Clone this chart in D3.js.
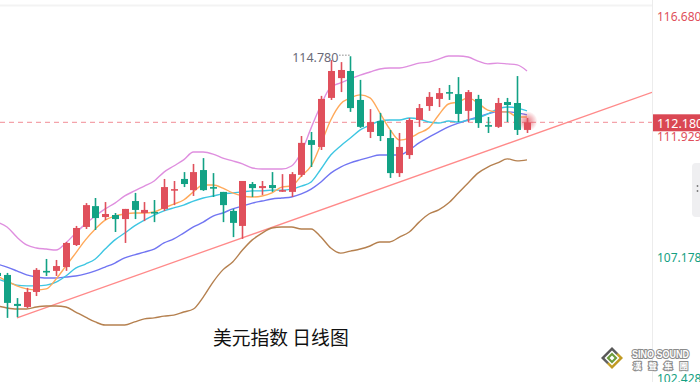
<!DOCTYPE html>
<html><head><meta charset="utf-8">
<script src="https://cdn.jsdelivr.net/npm/d3@7"></script>
<style>html,body{margin:0;padding:0;background:#fff;overflow:hidden}svg{display:block}</style>
</head><body>
<div id="chart"></div>
<script>
// ---- data (daily candles, index 0 is partially off-screen) ----
const days = d3.range(55);
const open  = [106.25,106.17,105.03,104.91,105.50,106.33,106.33,106.48,107.35,108.06,108.88,108.45,108.53,108.37,109.08,108.61,108.65,108.77,109.51,109.95,109.51,110.30,109.63,109.44,108.69,108.10,109.75,109.59,109.71,109.48,109.44,110.11,111.48,111.21,113.14,113.92,114.20,113.06,111.80,112.23,111.56,110.18,110.89,112.27,112.82,113.10,113.37,113.29,112.63,113.10,112.07,112.00,112.98,112.94,111.88];
const high  = [106.30,106.25,105.26,105.66,106.44,106.80,106.76,107.47,108.10,109.00,109.20,109.04,108.61,108.77,109.40,109.04,109.12,109.95,109.87,110.22,110.54,110.77,110.18,109.44,108.77,109.87,109.83,109.87,110.22,110.14,110.22,111.64,111.80,113.22,114.63,114.55,114.78,113.85,112.70,112.55,111.88,111.76,112.35,112.90,113.37,113.53,113.65,113.96,113.45,113.26,112.39,113.14,113.14,114.00,112.35];
const low   = [105.95,104.48,104.51,104.87,105.34,106.13,106.13,106.33,107.31,107.98,107.94,108.33,107.86,107.43,108.37,108.29,108.25,108.69,108.92,109.63,109.28,109.48,109.24,108.25,107.66,107.59,109.24,109.32,109.44,109.44,109.24,110.03,110.42,111.09,113.06,113.37,112.59,111.96,111.56,111.44,109.99,110.03,110.74,112.00,112.63,112.78,113.06,112.19,112.19,111.96,111.76,111.96,112.19,111.68,111.76];
const close = [106.13,105.07,104.95,105.50,106.37,106.29,106.52,107.43,108.02,108.92,108.41,108.57,108.37,108.77,108.73,108.73,108.61,109.63,109.55,109.75,110.22,109.51,109.59,108.92,108.22,109.87,109.59,109.67,109.59,109.51,110.14,111.37,111.29,113.10,114.20,114.24,112.74,112.00,112.19,111.64,110.18,111.21,112.27,112.74,113.18,113.33,113.33,112.51,113.37,112.15,112.03,112.94,112.86,111.88,112.18];

const ma5  = [106.13,105.93,105.74,105.62,105.58,105.62,106.01,106.52,107.03,107.55,107.98,108.33,108.49,108.57,108.61,108.61,108.65,108.81,108.96,109.12,109.44,109.71,109.71,109.59,109.40,109.28,109.24,109.28,109.40,109.63,109.67,110.07,110.46,111.33,112.27,112.90,113.14,113.26,113.14,112.55,111.92,111.48,111.56,111.76,111.96,112.47,112.90,112.98,113.14,112.94,112.66,112.59,112.59,112.39,112.39];
const ma10 = [106.01,105.89,105.77,105.74,105.74,105.77,105.89,106.13,106.44,106.60,106.80,107.19,107.55,107.82,108.10,108.33,108.53,108.69,108.81,108.92,109.08,109.20,109.28,109.36,109.40,109.44,109.48,109.48,109.51,109.51,109.55,109.67,109.83,110.34,110.89,111.25,111.56,111.88,112.07,112.23,112.27,112.27,112.35,112.31,112.19,112.15,112.23,112.19,112.27,112.35,112.51,112.70,112.78,112.74,112.63];
const ma20 = [106.60,106.48,106.33,106.17,106.09,106.05,106.05,106.09,106.13,106.21,106.33,106.48,106.64,106.84,106.96,107.07,107.19,107.43,107.59,107.82,108.06,108.25,108.49,108.61,108.77,108.88,109.00,109.08,109.16,109.20,109.24,109.36,109.55,109.83,110.18,110.42,110.58,110.70,110.81,110.89,110.89,110.89,111.09,111.37,111.60,111.80,112.00,112.15,112.27,112.39,112.51,112.59,112.59,112.55,112.47];
const bollUp  = [108.25,108.06,107.66,107.35,107.23,107.19,107.15,107.43,107.82,108.18,108.49,108.77,109.00,109.28,109.48,109.67,109.87,110.22,110.46,110.70,111.01,111.01,110.93,110.77,110.66,110.54,110.38,110.34,110.34,110.34,110.46,111.01,111.96,112.86,113.57,113.73,113.89,114.04,114.16,114.28,114.32,114.32,114.40,114.51,114.55,114.67,114.79,114.79,114.75,114.59,114.48,114.51,114.48,114.44,114.20];
const bollLow = [104.95,104.87,104.83,104.83,104.91,104.95,104.95,104.91,104.71,104.51,104.32,104.20,104.20,104.20,104.32,104.44,104.48,104.55,104.59,104.71,104.83,105.30,105.89,106.37,106.68,107.15,107.55,107.82,108.02,108.06,108.06,107.98,107.98,107.66,107.23,107.03,107.11,107.19,107.31,107.47,107.47,107.66,107.86,108.25,108.57,108.73,109.00,109.40,109.79,110.18,110.42,110.58,110.74,110.66,110.70];

const trendIdx = [2.02, 66.74];
const trendVal = [104.48, 113.36];

const axisTicks = [116.680, 111.929, 107.178, 102.428];
const axisColors = ["#e0505c", "#e0505c", "#149f82", "#149f82"];
const lastPrice = 112.18;
const peakIdx = 36, peakVal = 114.78;
const title = "美元指数 日线图";

// ---- layout ----
const W = 700, H = 382, plotR = 652;
const svg = d3.select("#chart").append("svg").attr("width", W).attr("height", H);

const x = d3.scaleLinear().domain([0, 54]).range([-2.8, 527]);
const y = d3.scaleLinear().domain([102.428, 116.68]).range([370, 8]);

const RED = "#e0505c", GREEN = "#12a285";

svg.append("defs").html(`
  <clipPath id="plot"><rect x="0" y="0" width="${plotR}" height="${H}"/></clipPath>
  <radialGradient id="pulse"><stop offset="0" stop-color="#e0505c" stop-opacity="0.75"/><stop offset="0.55" stop-color="#e0505c" stop-opacity="0.35"/><stop offset="1" stop-color="#e0505c" stop-opacity="0"/></radialGradient>
  <linearGradient id="gold" x1="0" y1="0" x2="1" y2="1"><stop offset="0" stop-color="#444"/><stop offset="0.5" stop-color="#666"/><stop offset="0.55" stop-color="#c9a227"/><stop offset="1" stop-color="#b08a1c"/></linearGradient>
`);

// top & right frame lines
svg.append("line").attr("x1", 0).attr("x2", plotR).attr("y1", 5.5).attr("y2", 5.5).attr("stroke", "#f3f3f3").attr("stroke-width", 2);
svg.append("line").attr("x1", plotR + 0.5).attr("x2", plotR + 0.5).attr("y1", 0).attr("y2", H).attr("stroke", "#ececec");

const g = svg.append("g").attr("clip-path", "url(#plot)");

// price line
g.append("line").attr("x1", 0).attr("x2", plotR).attr("y1", y(lastPrice)).attr("y2", y(lastPrice))
  .attr("stroke", "#f4a3aa").attr("stroke-width", 1.2).attr("stroke-dasharray", "5,4");

// trend line
g.append("line").attr("x1", x(trendIdx[0])).attr("y1", y(trendVal[0])).attr("x2", x(trendIdx[1])).attr("y2", y(trendVal[1]))
  .attr("stroke", "#ff8a8a").attr("stroke-width", 1.3);

// indicator lines
const line = d3.line().x((d, i) => x(i)).y(d => y(d)).curve(d3.curveMonotoneX);
const series = [
  [bollLow, "#b5804f"],
  [bollUp, "#df8fdf"],
  [ma20, "#7175f2"],
  [ma10, "#3ec6e2"],
  [ma5, "#ffa95a"]
];
series.forEach(([arr, col]) => {
  g.append("path").attr("d", line(arr)).attr("fill", "none").attr("stroke", col).attr("stroke-width", 1.4);
});

// candles
const cg = g.append("g");
days.forEach(i => {
  const up = close[i] >= open[i];
  const col = up ? RED : GREEN;
  const cx = Math.round(x(i));
  cg.append("line").attr("x1", cx + 0.5).attr("x2", cx + 0.5).attr("y1", y(high[i])).attr("y2", y(low[i]))
    .attr("stroke", col).attr("stroke-width", 1.6);
  const top = y(Math.max(open[i], close[i])), bot = y(Math.min(open[i], close[i]));
  cg.append("rect").attr("x", cx - 3).attr("width", 7).attr("y", top).attr("height", Math.max(1.6, bot - top)).attr("fill", col);
});

// last price pulse
g.append("circle").attr("cx", x(54) + 0.5).attr("cy", y(lastPrice) - 1).attr("r", 10).attr("fill", "url(#pulse)");

// peak annotation
g.append("line").attr("x1", x(peakIdx) - 11).attr("x2", x(peakIdx) - 1).attr("y1", y(peakVal) - 1).attr("y2", y(peakVal) - 1)
  .attr("stroke", "#888").attr("stroke-width", 1.5).attr("stroke-dasharray", "1,2");
g.append("text").attr("x", x(peakIdx) - 12).attr("y", y(peakVal) + 6).attr("text-anchor", "end")
  .attr("font-family", "'Noto Sans','Liberation Sans',sans-serif").attr("font-size", 12.5).attr("fill", "#6a6a78").text(peakVal.toFixed(3));

// right axis
const axis = d3.axisRight(y).tickValues(axisTicks).tickSize(0).tickFormat(d3.format(".3f"));
const ag = svg.append("g").attr("transform", `translate(${plotR},0)`).call(axis);
ag.select(".domain").remove();
ag.selectAll("text").attr("x", 5).attr("dy", "1em")
  .attr("font-family", "'Noto Sans','Liberation Sans',sans-serif").attr("font-size", 12)
  .attr("fill", (d, i) => axisColors[i]);

// last price label
svg.append("rect").attr("x", plotR + 1).attr("y", y(lastPrice) - 8).attr("width", W - plotR).attr("height", 17).attr("fill", "#da4753");
svg.append("text").attr("x", plotR + 5).attr("y", y(lastPrice) + 6).attr("font-family", "'Noto Sans','Liberation Sans',sans-serif")
  .attr("font-size", 12.5).attr("fill", "#fff").text(lastPrice.toFixed(3));

// side tab
svg.append("rect").attr("x", 692).attr("y", 163).attr("width", 14).attr("height", 54).attr("rx", 4).attr("fill", "#efeff1");
svg.append("circle").attr("cx", 697.5).attr("cy", 186).attr("r", 0.9).attr("fill", "#777");
svg.append("circle").attr("cx", 697.5).attr("cy", 191).attr("r", 0.9).attr("fill", "#777");

// title
svg.append("text").attr("x", 213).attr("y", 345).attr("font-family", "'Noto Sans CJK SC',sans-serif")
  .attr("font-size", 18.8).attr("fill", "#111").text(title);

// logo
const lg = svg.append("g").attr("transform", "translate(612,358)");
const dia = s => `M0,${-s}L${s},0L0,${s}L${-s},0Z`;
lg.append("path").attr("d", dia(11)).attr("fill", "url(#gold)");
lg.append("path").attr("d", dia(7.5)).attr("fill", "#fff");
lg.append("path").attr("d", dia(5.5)).attr("fill", "#6c9b3a");
lg.append("path").attr("d", dia(2.5)).attr("fill", "#fff");
svg.append("text").attr("x", 632).attr("y", 358).attr("font-family", "'Liberation Sans',sans-serif").attr("font-weight", "bold")
  .attr("font-size", 10).attr("textLength", 57).attr("lengthAdjust", "spacingAndGlyphs")
  .attr("fill", "#fff").attr("stroke", "#8c8c8c").attr("stroke-width", 2.2).attr("paint-order", "stroke")
  .text("SINO SOUND");
svg.append("text").attr("x", 633).attr("y", 369).attr("font-family", "'Noto Sans CJK TC',sans-serif").attr("font-weight", "bold")
  .attr("font-size", 8.5).attr("letter-spacing", 7).attr("fill", "#fff").attr("stroke", "#8c8c8c").attr("stroke-width", 2).attr("paint-order", "stroke")
  .text("漢聲集團");
</script>
</body></html>
